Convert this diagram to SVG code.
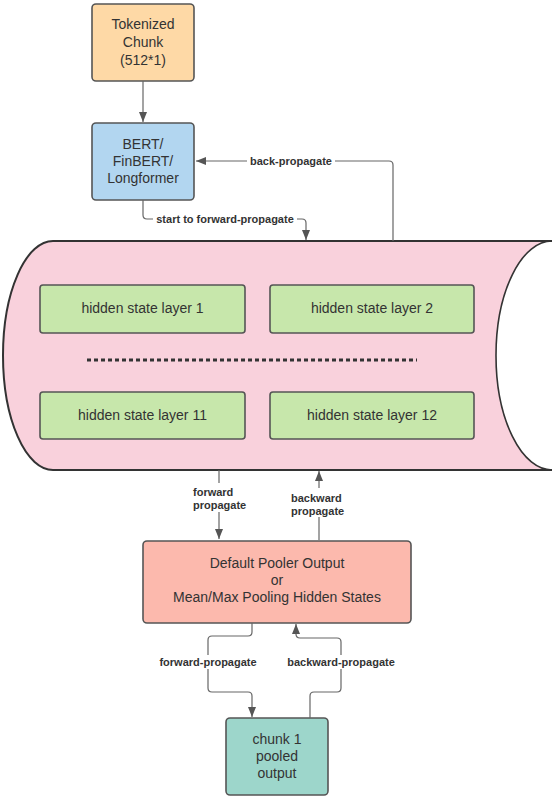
<svg xmlns="http://www.w3.org/2000/svg" width="552" height="798" viewBox="0 0 552 798">
<defs>
<marker id="ah" markerUnits="userSpaceOnUse" markerWidth="10" markerHeight="10" viewBox="0 0 10 10" refX="10" refY="5" orient="auto">
<path d="M0,1 L10,5 L0,9 Z" fill="#555"/>
</marker>
</defs>
<style>
.box{stroke:#555;stroke-width:1.6}
.t{font-family:"Liberation Sans",Arial,sans-serif;font-size:14px;fill:#333;text-anchor:middle}
.lbl{font-family:"Liberation Sans",Arial,sans-serif;font-size:11px;font-weight:bold;fill:#333}
.c{fill:none;stroke:#666;stroke-width:1.2}
.bg{fill:#fff}
</style>
<rect width="552" height="798" fill="#fff"/>

<g id="tokenized">
<rect class="box" x="92" y="4" width="102" height="77" rx="4" fill="#fed9a6"/>
<text class="t" x="143" y="29">Tokenized</text>
<text class="t" x="143" y="47">Chunk</text>
<text class="t" x="143" y="65">(512*1)</text>
</g>

<g id="bert">
<rect class="box" x="92" y="123" width="102" height="77" rx="4" fill="#b2d6f0"/>
<text class="t" x="143" y="149">BERT/</text>
<text class="t" x="143" y="166">FinBERT/</text>
<text class="t" x="143" y="183">Longformer</text>
</g>

<g id="cylinder">
<path d="M53,241 L552,241 A56,114.5 0 0 0 552,470 L53,470 A50,114.5 0 0 1 53,241 Z" fill="#f9d1dc" stroke="none"/>
<path d="M552,241 L53,241 A50,114.5 0 0 0 53,470 L552,470" fill="none" stroke="#333" stroke-width="2"/>
<path d="M552,241 A56,114.5 0 0 0 552,470" fill="none" stroke="#333" stroke-width="1.6"/>
</g>

<g id="layer1">
<rect class="box" x="40" y="285" width="205" height="48" rx="3" fill="#c7e7ab"/>
<text class="t" x="142.5" y="313">hidden state layer 1</text>
</g>
<g id="layer2">
<rect class="box" x="270" y="285" width="204" height="48" rx="3" fill="#c7e7ab"/>
<text class="t" x="372" y="313">hidden state layer 2</text>
</g>
<g id="dots">
<line x1="87" y1="360" x2="417" y2="360" stroke="#333" stroke-width="3" stroke-dasharray="4,3"/>
</g>
<g id="layer11">
<rect class="box" x="40" y="392" width="205" height="47" rx="3" fill="#c7e7ab"/>
<text class="t" x="142.5" y="420">hidden state layer 11</text>
</g>
<g id="layer12">
<rect class="box" x="270" y="392" width="204" height="47" rx="3" fill="#c7e7ab"/>
<text class="t" x="372" y="420">hidden state layer 12</text>
</g>

<g id="pooler">
<rect class="box" x="143" y="541" width="268" height="82" rx="4" fill="#fcb9ad"/>
<text class="t" x="277" y="568">Default Pooler Output</text>
<text class="t" x="277" y="585">or</text>
<text class="t" x="277" y="602">Mean/Max Pooling Hidden States</text>
</g>

<g id="chunk">
<rect class="box" x="226" y="718" width="102" height="77" rx="4" fill="#9dd6cb"/>
<text class="t" x="277" y="744">chunk 1</text>
<text class="t" x="277" y="761">pooled</text>
<text class="t" x="277" y="778">output</text>
</g>

<g id="connectors">
<path class="c" d="M143,81 L143,122" marker-end="url(#ah)"/>
<path class="c" d="M143,200 L143,215 Q143,219 147,219 L302,219 Q306,219 306,223 L306,240" marker-end="url(#ah)"/>
<path class="c" d="M393,241 L393,165 Q393,161 389,161 L196,161" marker-end="url(#ah)"/>
<path class="c" d="M219,470 L219,539" marker-end="url(#ah)"/>
<path class="c" d="M319,540 L319,471" marker-end="url(#ah)"/>
<path class="c" d="M252,623 L252,632 Q252,636 248,636 L212,636 Q208,636 208,640 L208,688 Q208,692 212,692 L248,692 Q252,692 252,696 L252,717" marker-end="url(#ah)"/>
<path class="c" d="M310,718 L310,696 Q310,692 314,692 L337,692 Q341,692 341,688 L341,642 Q341,638 337,638 L300,638 Q296,638 296,634 L296,624" marker-end="url(#ah)"/>

<rect class="bg" x="247" y="154" width="88" height="14"/>
<text class="lbl" x="291" y="165" text-anchor="middle">back-propagate</text>
<rect class="bg" x="153" y="212" width="144" height="14"/>
<text class="lbl" x="225" y="223" text-anchor="middle">start to forward-propagate</text>
<rect class="bg" x="190" y="483" width="58" height="29"/>
<text class="lbl" x="193" y="496">forward</text>
<text class="lbl" x="193" y="509">propagate</text>
<rect class="bg" x="288" y="488" width="58" height="29"/>
<text class="lbl" x="291" y="502">backward</text>
<text class="lbl" x="291" y="515">propagate</text>
<rect class="bg" x="156" y="655" width="104" height="14"/>
<text class="lbl" x="208" y="666" text-anchor="middle">forward-propagate</text>
<rect class="bg" x="285" y="655" width="113" height="14"/>
<text class="lbl" x="341" y="666" text-anchor="middle">backward-propagate</text>
</g>
</svg>
